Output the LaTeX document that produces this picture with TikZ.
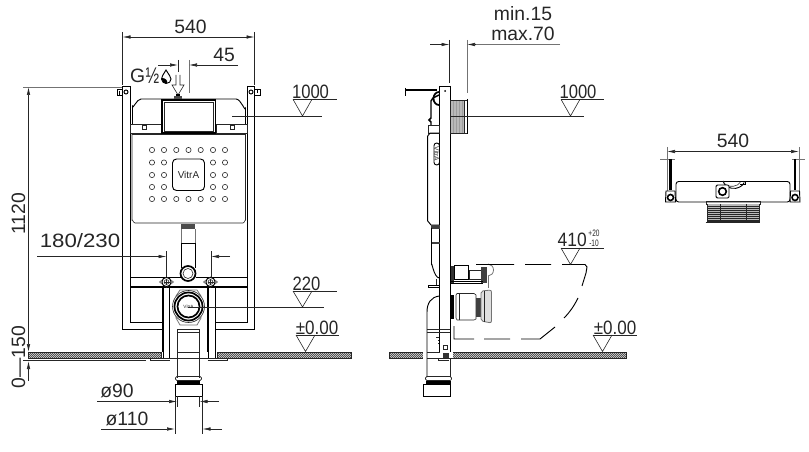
\documentclass[tikz,border=0pt]{standalone}
\usepackage{fontspec}
\setmainfont{Liberation Sans}
\usetikzlibrary{arrows.meta}
\definecolor{ink}{gray}{0.15}
\definecolor{ext}{gray}{0.45}
\tikzset{
  thin line/.style={draw=ink,line width=0.45pt},
  ext line/.style={draw=ext,line width=0.6pt},
  body/.style={draw=black,line width=0.7pt},
  heavy/.style={draw=black,line width=1.4pt},
  dimarrow/.style={thin line,-{Latex[length=6pt,width=2.6pt]}},
  label/.style={text=ink,font=\fontsize{14.5}{16}\selectfont,inner sep=0pt},
  logo/.style={text=ink,font=\fontsize{6}{7}\selectfont,inner sep=0pt},
}
\newcommand{\levelmark}[4]{% left x, line y, apex y, right end
  \draw[thin line] (#1,#2) -- (#4,#2);
  \draw[thin line] (#1,#2) -- (#1+9.5,#3) -- (#1+19,#2);
}
\begin{document}
\begin{tikzpicture}[x=0.75pt,y=-0.75pt]
\useasboundingbox (0,0) rectangle (809,452);
% ---------- floors
\begin{scope}
  \clip (28,352) rectangle (351,358.5) (389,352) rectangle (626,358.5);
  \fill[gray!25] (28,352) rectangle (626,358.5);
  \foreach \i in {0,2,...,620} \draw[black!80,line width=0.35pt] (20+\i,360) -- (30+\i,350);
\end{scope}
\draw[thin line] (28,352) rectangle (351,358.5);
\draw[thin line] (389,352) rectangle (626,358.5);
\fill[white] (161,351) rectangle (217,359);
\fill[white] (423,351) rectangle (453,359);

% ========== FRONT VIEW
% outer frame
\draw[body] (122.5,86) -- (122.5,329) -- (162,329);
\draw[body] (254.5,86) -- (254.5,329) -- (215,329);
\draw[body] (130,86) -- (130,322) -- (162,322);
\draw[body] (247.5,86) -- (247.5,322) -- (215,322);
\draw[body] (122.5,86) -- (130,86) (247.5,86) -- (254.5,86);
% hooks
\draw[body] (121.5,95) -- (117,95) -- (117,89) -- (122,89) (119.5,95) -- (119.5,91);
\draw[body] (126,92) circle (2);
\draw[body] (255,89) -- (260.5,89) -- (260.5,95) -- (255,95) (257.5,89) -- (257.5,93);
\draw[body] (251,92) circle (2);
% tank top
\draw[body] (132.5,124) -- (132.5,106) to[out=-90,in=180] (141,99) -- (236,99) to[out=0,in=-90] (245.5,108) -- (245.5,124);
\draw[thin line] (130.5,124.5) rectangle (161,133);
\draw[thin line] (216,124.5) rectangle (247,133);
\draw[thin line] (142.5,125) rectangle (146.5,129) (230.5,125) rectangle (234.5,129);
\draw[heavy] (162,100) rectangle (215.5,133);
\draw[thin line] (164.5,102) rectangle (213.5,131);
% tank body
\draw[thin line] (132,134) -- (132,220) to[out=90,in=180] (135,223) -- (243,223) to[out=0,in=90] (245.5,220) -- (245.5,134);
\draw[thin line] (132,134) -- (245.5,134);
\foreach \y in {150,162.5,175,187,199} \foreach \x in {152,164,213,225}
  \draw[thin line] (\x,\y) circle (2.6);
\foreach \y in {150,199} \foreach \x in {176.3,188.5,200.7}
  \draw[thin line] (\x,\y) circle (2.6);
\draw[body,rounded corners=3pt] (172.5,159) rectangle (204.5,190.5);
\node[logo,font=\fontsize{7.5}{8}\selectfont] (logofront) at (188.5,175) {VitrA};
% flush pipe
\fill[black!70] (181,224) rectangle (195,229);
\draw[ext line] (181.5,229) -- (181.5,243) (195,229) -- (195,243);
\draw[body] (181.5,268) -- (181.5,243) -- (195.5,243) -- (195.5,268);
\draw[fill=white,line width=1.3pt] (188,273.5) circle (7.5);
\draw[thin line] (188,273.5) circle (5);
% cross bars
\draw[heavy] (130,277.5) -- (181,277.5) (196,277.5) -- (247.5,277.5);
\draw[heavy] (130,287) -- (247.5,287);
% legs
\draw[heavy] (163,287) -- (163,352);
\draw[body] (169.5,287) -- (169.5,352);
\draw[heavy] (208,287) -- (208,352);
\draw[body] (215,287) -- (215,352);
\draw[thin line] (161,352) -- (161,358) -- (217,358) -- (217,352);
\draw[body] (163,352) -- (163,358) (169.5,352) -- (169.5,358) (208,352) -- (208,358) (215,352) -- (215,358);
\draw[thin line] (150,358.5) -- (150,360.5) -- (169.5,360.5) (207.5,360.5) -- (227,360.5) -- (227,358.5);
% bolts
\foreach \x in {166.5,210.5}{
  \draw[ext line,fill=white] (\x-7,282) -- (\x,277) -- (\x+7,282) -- (\x,287) -- cycle;
  \draw[body,fill=white] (\x,282) circle (4.6);
  \draw[thin line] (\x,282) circle (2.4);
  \draw[thin line] (\x-3,282) -- (\x+3,282) (\x,279) -- (\x,285);
}
% big outlet
\draw[ext line,fill=white] (180,290) -- (197,290) -- (201,296) -- (201,318) -- (197,325) -- (180,325) -- (176,318) -- (176,296) -- cycle;
\draw[thin line,fill=white] (188.5,306.5) circle (16);
\draw[line width=1.3pt] (188.5,306.5) circle (14);
\draw[line width=1.3pt] (188.5,306.5) circle (11);
\fill[white] (188.5,306.5) circle (9.5);
\node[logo,font=\fontsize{3.5}{4}\selectfont] (logooutlet) at (188.5,306.5) {VitrA};
% drain
\draw[thin line] (177,329) -- (177,378) (199.5,329) -- (199.5,378);
\draw[thin line] (177,329) -- (199.5,329) (177,332.5) -- (199.5,332.5);
\draw[thin line] (177,352) -- (199.5,352) (177,358) -- (199.5,358);
\draw[thin line,rounded corners=1pt] (175.5,376.5) rectangle (201.5,380.5);
\fill[black] (177,381) rectangle (200,384);
\draw[body] (175,384) rectangle (202.5,396);
\draw[thin line] (177,396) -- (177,407) (199.5,396) -- (199.5,407);
\draw[thin line] (175,396) -- (175,434) (202.5,396) -- (202.5,434);
% dims front
\draw[thin line] (122.5,32) -- (122.5,85) (254.5,32) -- (254.5,85);
\draw[dimarrow,{Latex[length=6pt,width=2.6pt]}-{Latex[length=6pt,width=2.6pt]}] (122.5,37) -- (254.5,37);
\node[label] (t540a) at (190.5,26.5) {540};
\draw[dimarrow] (158,65) -- (178,65);
\draw[thin line] (178.5,60) -- (178.5,72);
\draw[ext line] (189,60) -- (189,93);
\draw[dimarrow] (238,65) -- (189,65);
\node[label] (t45) at (224,55) {45};
\node[label,anchor=east] (tg) at (145.5,75.5) {G};
\node[label,anchor=west,font=\fontsize{17}{18}\selectfont,xscale=0.72] (thalf) at (145.5,75.5) {½};
% drop
\draw[body] (166,70) .. controls (163,75) and (161.5,77) .. (161.5,79) .. controls (161.5,81.5) and (164,83.5) .. (166,83.5) .. controls (169,83.5) and (171,81.5) .. (171,79) .. controls (171,77) and (169,75) .. (166,70) -- cycle;
\fill[black] (161.8,78) .. controls (162,82) and (165,84) .. (167,83.3) .. controls (168,80) and (165,78) .. (161.8,78) -- cycle;
% hollow arrow
\draw[thin line] (176,75) -- (176,85) -- (172,85) -- (178,95) -- (184,85) -- (180,85) -- (180,75);
\fill[black!70] (174,96) rectangle (182,99);
\fill[black] (176,94.5) rectangle (180,96.5);
% 1120 / 0-150
\draw[ext line] (23,87) -- (122,87);
\draw[dimarrow] (28.5,220) -- (28.5,87);
\draw[dimarrow] (28.5,220) -- (28.5,352);
\draw[dimarrow] (28.5,381) -- (28.5,361);
\draw[thin line] (23,360) -- (146,360);
\node[label,rotate=90] (t1120) at (18.5,214) {1120};
\node[label,rotate=90] (t0150) at (18.5,357) {0---150};
% 1000 front
\draw[thin line] (232,116) -- (322,116);
\levelmark{293}{99.3}{116}{337}
\node[label,xscale=0.86] (t1000a) at (310.5,92) {1000};
% 180/230
\node[label,xscale=1.15] (t180) at (80,241) {180/230};
\draw[thin line] (166.5,251) -- (166.5,277) (211,251) -- (211,277);
\draw[dimarrow] (37,256.5) -- (166.5,256.5);
\draw[dimarrow] (230,256.5) -- (211,256.5);
% 220
\draw[thin line] (188,307) -- (324,307);
\levelmark{293}{291}{307}{337}
\node[label,xscale=0.86] (t220) at (306.5,284) {220};
% +-0.00 front
\levelmark{296}{335}{351.5}{339}
\node[label,xscale=0.88] (t000a) at (317,328) {±0.00};
% dia
\node[label] (t90) at (117,391) {ø90};
\draw[dimarrow] (97,401.5) -- (177,401.5);
\draw[dimarrow] (219,401.5) -- (199.5,401.5);
\node[label] (t110) at (127,419) {ø110};
\draw[dimarrow] (101,429) -- (175,429);
\draw[dimarrow] (222,429) -- (202.5,429);

% ========== SIDE VIEW
\draw[body] (439.5,86) -- (439.5,352) (450,86) -- (450,329);
\draw[body] (439.5,86) -- (450,86);
\fill[black] (445,91) circle (1);
\draw[line width=1.5pt] (405.5,90.5) -- (437,90.5);
\draw[line width=0.8pt] (405.5,88) -- (405.5,96);
% cistern
\draw[line width=1.1pt] (439,95) -- (433,98) -- (431,101) -- (431,118) -- (429,120) -- (431,122) -- (431,125);
\draw[line width=1.3pt] (439,105) arc (90:270:5.5 and 6.5);
\draw[thin line] (428.5,125) rectangle (439.5,133);
\draw[body] (439.5,133) -- (430,133) -- (427.7,136) -- (427.7,221) -- (431,225) -- (439.5,225);
\draw[body,rounded corners=2pt] (434,143) rectangle (439.5,165);
\node[logo,rotate=-90,font=\fontsize{5}{6}\selectfont] (logoside) at (436.8,154) {VitrA};
% lower cistern pipe
\fill[black!75] (431,225) rectangle (439.5,228.5);
\fill[black!75] (431,242) rectangle (439.5,244);
\draw[body] (431.5,228) -- (431.5,265) to[out=90,in=180] (439.5,278);
\draw[body] (428,285) -- (439,285) (428,287.5) -- (439,287.5) (428,285) -- (428,287.5);
\draw[thin line] (436,279) -- (436,285);
% drain elbow
\draw[body] (439.5,296) .. controls (431,297) and (427,303) .. (427,312) -- (427,377);
\draw[thin line] (427,329) -- (450,329) (427,332) -- (450,332);
\draw[body] (450,329) -- (450,352);
\draw[thin line] (427,352) -- (439.5,352) (427,358) -- (453,358);
\draw[thin line] (450,358) -- (450,377);
\draw[thin line,rounded corners=1pt] (425.5,376.5) rectangle (451.5,380.5);
\fill[black] (426,381) rectangle (451,383.5);
\draw[body] (423,384) rectangle (450.5,396);
\draw[thin line] (436,337) -- (439,337) (438,340) -- (439,340) (438,343) -- (439,343);
\draw[thin line] (443,345) rectangle (447,349);
\fill[black!80] (443,353) rectangle (449,358);
\draw[thin line] (438,358) -- (438,360.5) -- (449,360.5);
% wall panel
\fill[gray!55] (450.5,100) rectangle (464,133);
\foreach \x in {453,456,459,462} \draw[ext!70,line width=0.5pt] (\x,100) -- (\x,133);
\draw[thin line] (450.5,100) rectangle (464,133);
\draw[body] (467,99) -- (467,134);
\draw[thin line] (464,100) -- (467,100) (464,133) -- (467,133);
% fittings upper
\fill[black!80] (451,266) rectangle (454,283);
\draw[body] (454,265) rectangle (468,279);
\draw[thin line] (469,270) rectangle (481,279);
\fill[black!75] (481,267) rectangle (487,283);
\draw[body] (451,281) -- (483,281) (451,283.5) -- (483,283.5);
\draw[ext line] (488,276) arc (90:-90:5.5 and 6);
\draw[ext line] (488,276) -- (488,288);
% fittings lower
\fill[black] (450.5,295) rectangle (454,319);
\draw[thin line] (457,293.5) -- (474,293.5) -- (476,295) -- (476,319) -- (474,320) -- (457,320) -- (456,318) -- (456,295) -- cycle;
\draw[thin line] (459,294) -- (459,320);
\fill[black!75] (476,298) rectangle (481,317);
\draw[ext line,rounded corners=1.5pt,fill=gray!25] (481,291) -- (491.5,290) -- (491.5,323) -- (481,321) -- cycle;
\draw[thin line] (484,291) -- (484,322);
% bowl
\draw[body] (476,264.5) -- (514,264.5) (525,264.5) -- (551,264.5) (562,264.5) -- (585,264.5) -- (587,267) -- (586,273) -- (582,286);
\draw[body] (578,298) .. controls (574,306) and (570,312) .. (564,318);
\draw[body] (555,327) -- (540,339) -- (521,339) (510,339) -- (484,339) (474,339) -- (454,339) -- (454,326);
% side dims
\node[label] (tmin) at (523,14) {min.15};
\node[label] (tmax) at (523,34) {max.70};
\draw[thin line] (449.5,40) -- (449.5,83);
\draw[ext line] (467,40) -- (467,93);
\draw[dimarrow] (430,44.5) -- (449.5,44.5);
\draw[ext line] (560,44.5) -- (475,44.5);
\draw[dimarrow] (475,44.5) -- (467,44.5);
\draw[thin line] (450,116) -- (584,116);
\levelmark{561}{99.3}{116}{604}
\node[label,xscale=0.86] (t1000b) at (578,92) {1000};
\levelmark{561}{248}{264.5}{604}
\node[label,anchor=east,xscale=0.9] (t410) at (587,240) {410};
\node[label,font=\fontsize{7}{7}\selectfont,xscale=0.7] (t20) at (594,233.5) {+20};
\node[label,font=\fontsize{7}{7}\selectfont,xscale=0.7] (t10) at (594,243) {-10};
\levelmark{593}{335}{351.5}{637}
\node[label,xscale=0.88] (t000b) at (615,328) {±0.00};

% ========== TOP VIEW
\node[label] (t540b) at (733,141) {540};
\draw[dimarrow,{Latex[length=6pt,width=2.6pt]}-{Latex[length=6pt,width=2.6pt]}] (667,151.5) -- (799,151.5);
\draw[ext line] (667,147) -- (667,192) (799,147) -- (799,192);
\draw[ext line] (660,159) -- (675,159) (792,159) -- (805,159);
\draw[line width=2.2pt] (670.5,159) -- (670.5,190) (795,159) -- (795,190);
\draw[body,rounded corners=2pt] (676,181.5) rectangle (790,202);
\foreach \x in {670.5,795}{
  \draw[body,fill=white] (\x-4.5,191) -- (\x+4.5,191) -- (\x+5,202) -- (\x-5,202) -- cycle;
  \draw[line width=1.2pt] (\x,197.5) circle (3);
}
\draw[body] (723,181) arc (170:20:11 and 9);
\draw[thin line] (723,181) arc (170:20:9 and 6.5);
\draw[body] (740,181.5) -- (745,181.5) -- (745,184) -- (740,184);
\draw[body,fill=white,rounded corners=1pt] (716,185) rectangle (729,198);
\draw[line width=1.2pt] (722.5,191.5) circle (3.8);
\draw[thin line] (706,201.5) rectangle (760,204);
\fill[gray!55] (707.5,204) rectangle (759,221);
\foreach \y in {206,208,...,220} \draw[ink,line width=0.35pt] (707.5,\y) -- (759,\y);
\draw[thin line] (707.5,204) -- (707.5,221) -- (759,221) -- (759,204);
\draw[thin line] (705.5,222) -- (760,222) (720,204) -- (720,221) (746,204) -- (746,221);
\end{tikzpicture}
\end{document}
